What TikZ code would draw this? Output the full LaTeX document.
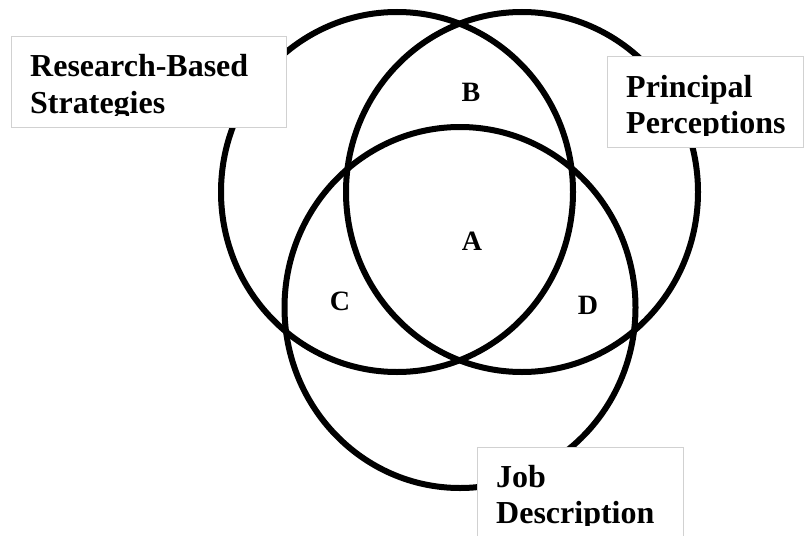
\documentclass[tikz,border=0pt]{standalone}
\usepackage{fontspec}
\setmainfont{Liberation Serif}
\usetikzlibrary{shapes.geometric}
\begin{document}
\begin{tikzpicture}[x=1pt,y=-1pt,
  ring/.style={draw=black, line width=6pt, ellipse, inner sep=0pt,
    minimum width=352pt, minimum height=360pt},
  labelbox/.style={draw=black!18, fill=white, line width=1pt},
  labeltext/.style={anchor=base west, inner sep=0pt, font=\bfseries\fontsize{32}{35}\selectfont},
  region/.style={inner sep=0pt, font=\bfseries\fontsize{28}{30}\selectfont}]
\useasboundingbox (0,0) rectangle (805,535);
\clip (0,0) rectangle (805,535);
% circles
\node[ring] (rbs) at (397,192) {};
\node[ring] (pp) at (522,192) {};
\node[ring, minimum width=351pt, minimum height=361pt] (jd) at (460,307.5) {};
% region letters
\node[region] (A) at (472,241) {A};
\node[region] (B) at (471,92) {B};
\node[region] (C) at (340,301) {C};
\node[region] (D) at (588,305) {D};
% label box 1
\draw[labelbox] (11,37) rectangle (286,127);
\begin{scope}
\clip (11,37) rectangle (286,115);
\node[labeltext] (rbs1) at (30,77) {Research-Based};
\node[labeltext] (rbs2) at (30,113) {Strategies};
\end{scope}
% label box 2
\draw[labelbox] (607,57) rectangle (803,147);
\begin{scope}
\clip (607,57) rectangle (803,135);
\node[labeltext] (pp1) at (626,97) {Principal};
\node[labeltext] (pp2) at (626,133) {Perceptions};
\end{scope}
% label box 3
\draw[labelbox] (477,447) rectangle (683,545);
\begin{scope}
\clip (477,447) rectangle (683,525);
\node[labeltext] (jd1) at (496,487) {Job};
\node[labeltext] (jd2) at (496,523) {Description};
\end{scope}
\end{tikzpicture}
\end{document}
